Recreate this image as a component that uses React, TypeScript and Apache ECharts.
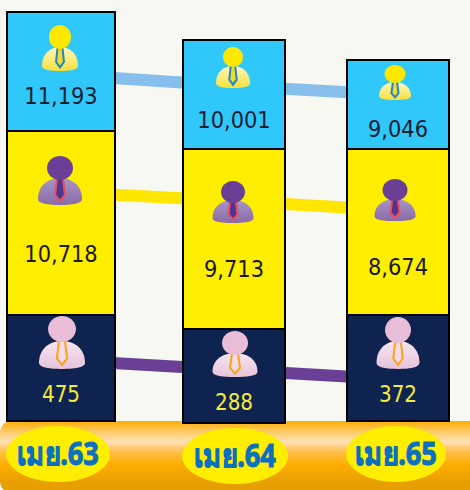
import React, { useEffect, useRef } from "react";
import * as echarts from "echarts";

const categories = ["เมย.63", "เมย.64", "เมย.65"];
const topValues = [11193, 10001, 9046];
const middleValues = [10718, 9713, 8674];
const bottomValues = [475, 288, 372];
// Stacked band lengths as drawn in the picture (the bands are not to scale with their values)
const topBand = [119, 109, 89];
const middleBand = [184, 180, 166];
const bottomBand = [106, 94, 106];
const baseLevel = [69, 67, 69];
const columnX = [61, 234, 398];
const columnW = [108, 102, 102];
// Levels of the three connecting ribbons at each column, as drawn
const topRibbon = [415.5, 404, 395];
const middleRibbon = [298, 289, 279.5];
const bottomRibbon = [130, 120, 110.5];

const W = 470;
const H = 490;

const fmt = (v: number) => v.toLocaleString("en-US");

function grad(stops: [number, string][], x2 = 0, y2 = 1) {
  return new echarts.graphic.LinearGradient(0, 0, x2, y2, stops.map(([offset, color]) => ({ offset, color })));
}

type Tone = { head: string; bodyTop: string; bodyBottom: string; tie: string; tieFill: string };
const TONES: Record<string, Tone> = {
  top: { head: "#ffe800", bodyTop: "#fff7c0", bodyBottom: "#f6e03a", tie: "#1f86c9", tieFill: "#f2d92c" },
  mid: { head: "#6b3f96", bodyTop: "#a897c4", bodyBottom: "#8a6aa8", tie: "#ee4a5a", tieFill: "#4d3690" },
  low: { head: "#e9bcd8", bodyTop: "#f6e6f0", bodyBottom: "#e6c3da", tie: "#f8a41a", tieFill: "#f3dbe8" },
};

// cx, head cy, head rx, head ry, body half width, body top, body bottom per band and column
const ICONS: Record<string, number[][]> = {
  top: [[60, 37, 11, 12, 18, 47, 71], [233, 57, 10, 10, 17, 66, 88], [395, 74, 10.5, 9, 16, 82, 100]],
  mid: [[60, 168, 13, 12, 22, 178, 205], [233, 192, 12, 11, 20.5, 200, 223], [395, 190, 12.5, 11, 20.5, 199, 221]],
  low: [[62, 329, 14, 13, 23, 341, 369], [235, 343, 13, 12, 22.5, 353, 377], [398, 330, 13, 13, 21.5, 341, 369]],
};

function personIcon(key: string, ix: number, api: any) {
  const t = TONES[key];
  const [cx, hy, hrx, hry, bw, bt, bb] = ICONS[key][ix];
  const pt = (x: number, y: number) => api.coord([x, H - y]);
  const [pcx, pHy] = pt(cx, hy);
  const [, pBt] = pt(cx, bt);
  const [, pBb] = pt(cx, bb);
  const h = pBb - pBt;
  const tw = bw * 0.22;
  const d = `M${pcx - bw} ${pBb - h * 0.22}
    C${pcx - bw} ${pBt + h * 0.25} ${pcx - bw * 0.5} ${pBt} ${pcx} ${pBt}
    C${pcx + bw * 0.5} ${pBt} ${pcx + bw} ${pBt + h * 0.25} ${pcx + bw} ${pBb - h * 0.22}
    C${pcx + bw} ${pBb - h * 0.04} ${pcx + bw * 0.5} ${pBb} ${pcx} ${pBb}
    C${pcx - bw * 0.5} ${pBb} ${pcx - bw} ${pBb - h * 0.04} ${pcx - bw} ${pBb - h * 0.22}Z`;
  return [
    { type: "path", shape: { pathData: d, layout: "cover", x: pcx - bw, y: pBt, width: 2 * bw, height: h },
      style: { fill: grad([[0, t.bodyTop], [1, t.bodyBottom]]) } },
    { type: "polygon",
      shape: { points: [[pcx - tw * 0.6, pBt], [pcx + tw * 0.6, pBt], [pcx + tw, pBt + h * 0.62], [pcx, pBt + h * 0.85], [pcx - tw, pBt + h * 0.62]] },
      style: { fill: t.tieFill, stroke: t.tie, lineWidth: 2 } },
    { type: "ellipse", shape: { cx: pcx, cy: pHy, rx: hrx, ry: hry }, style: { fill: t.head } },
  ];
}

function renderColumn(params: any, api: any) {
  const i = params.dataIndex;
  const x = api.value(0);
  const w = api.value(1);
  const bands = [api.value(2), api.value(3), api.value(4)];
  const base = api.value(5);
  const fills = ["#0f2350", "#ffee00", "#30c8fa"];
  const keys = ["low", "mid", "top"];
  const labels = [bottomValues[i], middleValues[i], topValues[i]];
  const textColor = ["#f4ea3c", "#1a1a10", "#10202e"];
  const labelY = [[394, 254, 96], [402, 269, 120], [394, 267, 129]][i];
  const children: any[] = [];
  let lvl = base;
  bands.forEach((len: number, b: number) => {
    const [x0, y1] = api.coord([x - w / 2, lvl]);
    const [x1, y0] = api.coord([x + w / 2, lvl + len]);
    children.push({ type: "rect", shape: { x: x0, y: y0, width: x1 - x0, height: y1 - y0 },
      style: { fill: fills[b], stroke: "#000", lineWidth: 2 } });
    lvl += len;
  });
  keys.forEach((k, b) => {
    children.push(...personIcon(k, i, api));
    const [cx, cy] = api.coord([x, H - labelY[b]]);
    children.push({ type: "text", x: cx, y: cy, scaleY: 1.12,
      style: { text: fmt(labels[b]), fill: textColor[b], font: `${b === 0 ? 20 : 21}px "DejaVu Sans"`, align: "center", verticalAlign: "middle" } });
  });
  return { type: "group", children };
}

function renderCategory(params: any, api: any) {
  const i = params.dataIndex;
  const [cx, cy] = api.coord([[58, 235, 396][i], H - [454, 456, 454][i]]);
  const rx = [52, 53, 50][i];
  return { type: "group", children: [
    { type: "ellipse", shape: { cx, cy, rx, ry: 28 }, style: { fill: "#ffee00" } },
    { type: "text", x: cx, y: cy - 1, scaleX: 0.85,
      style: { text: categories[i], fill: "#0b70bf", stroke: "#0b70bf", lineWidth: 1,
        font: 'bold 32px "Noto Sans", "DejaVu Sans", "Liberation Sans", sans-serif', align: "center", verticalAlign: "middle" } },
  ] };
}

function ribbon(values: number[], color: string) {
  return {
    type: "line", data: values.map((v, i) => [columnX[i], v]), symbol: "none", z: 1,
    lineStyle: { color, width: 12, cap: "butt" }, silent: true,
  };
}

export default function App() {
  const ref = useRef<HTMLDivElement>(null);
  useEffect(() => {
    const chart = echarts.init(ref.current!, undefined, { renderer: "svg" });
    chart.setOption({
      animation: false,
      backgroundColor: "#f8f8f3",
      grid: { left: 0, right: 0, top: 0, bottom: 0 },
      xAxis: { type: "value", min: 0, max: W, show: false },
      yAxis: { type: "value", min: 0, max: H, show: false },
      graphic: [{
        type: "rect", z: 0, silent: true,
        shape: { x: 0, y: 421, width: W + 12, height: 72, r: 12 },
        style: { fill: grad([[0, "#ffae00"], [0.14, "#ffc860"], [0.29, "#ffe0b8"], [0.42, "#ffc050"], [0.6, "#ffae00"], [0.85, "#e89f00"], [1, "#e69d00"]]) },
      }],
      series: [
        ribbon(topRibbon, "#86bfeb"),
        ribbon(middleRibbon, "#ffe600"),
        ribbon(bottomRibbon, "#6a3f96"),
        {
          type: "custom", z: 3, renderItem: renderColumn, clip: false,
          encode: { x: 0, y: 2 },
          data: columnX.map((x, i) => [x, columnW[i], bottomBand[i], middleBand[i], topBand[i], baseLevel[i]]),
        },
        {
          type: "custom", z: 4, renderItem: renderCategory, clip: false,
          data: categories.map((_, i) => [i, 0]),
        },
      ],
    });
    return () => chart.dispose();
  }, []);
  return <div ref={ref} style={{ position: "fixed", left: 0, top: 0, width: W, height: H }} />;
}
